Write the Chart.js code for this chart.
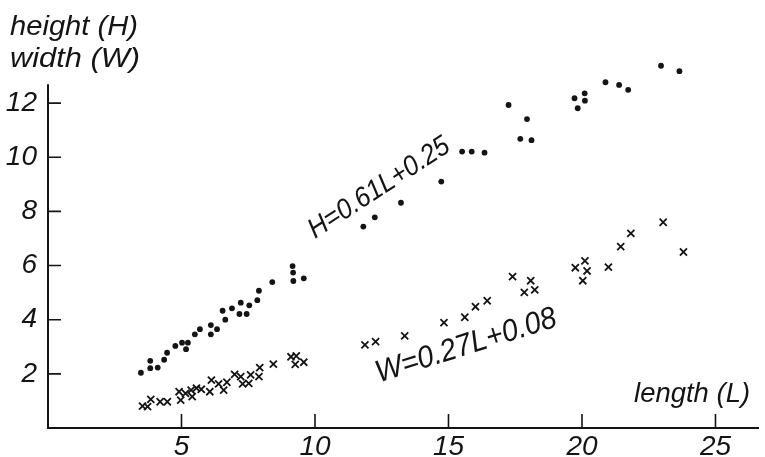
<!DOCTYPE html>
<html lang="en">
<head>
  <meta charset="UTF-8">
  <title>Height and width against length</title>
  <style>
    body {
      margin: 0;
      background: #fff;
    }
    #wrap {
      width: 765px;
      height: 457px;
    }
  </style>
</head>
<body>

  <div id="wrap">
    <canvas id="chartCanvas" width="765" height="457"></canvas>
  </div>

  <script src="https://cdn.jsdelivr.net/npm/chart.js"></script>
  <script>
    // Height (dots): length L and height H
    const heightL = [3.48, 3.83, 3.83, 4.11, 4.35, 4.46, 4.77, 5.02, 5.24, 5.17,
      5.50, 5.69, 6.10, 6.10, 6.33, 6.54, 6.64, 6.89, 7.22, 7.17,
      7.44, 7.54, 7.84, 7.90, 8.40, 9.16, 9.18, 9.19, 9.58, 11.81,
      12.24, 13.22, 14.73, 15.51, 15.87, 16.35, 17.25, 17.94, 17.69, 18.11,
      19.72, 20.10, 20.11, 19.84, 20.88, 21.39, 21.73, 22.96, 23.65];
    const heightH = [2.04, 2.48, 2.21, 2.23, 2.52, 2.78, 3.03, 3.15, 3.15, 2.91,
      3.46, 3.65, 3.46, 3.80, 3.65, 4.33, 4.00, 4.42, 4.63, 4.21,
      4.21, 4.53, 4.72, 5.07, 5.39, 5.98, 5.74, 5.43, 5.53, 7.44,
      7.78, 8.32, 9.10, 10.21, 10.21, 10.17, 11.93, 11.41, 10.68, 10.63,
      12.18, 12.36, 12.09, 11.81, 12.77, 12.67, 12.49, 13.38, 13.18];

    // Width (crosses): length L and width W
    const widthL = [3.54, 3.73, 3.85, 4.20, 4.47, 4.91, 4.97, 5.15, 5.36, 5.40,
      5.56, 5.74, 6.06, 6.12, 6.39, 6.58, 6.70, 6.99, 7.22, 7.29,
      7.52, 7.59, 7.90, 7.93, 8.44, 9.10, 9.30, 9.26, 9.58, 11.87,
      12.27, 13.36, 14.83, 15.61, 16.01, 16.45, 17.40, 18.08, 17.84, 18.23,
      19.75, 20.11, 20.19, 20.03, 20.99, 21.45, 21.83, 23.04, 23.80];
    const widthW = [0.81, 0.79, 1.06, 0.97, 0.97, 1.34, 1.03, 1.28, 1.40, 1.16,
      1.47, 1.43, 1.34, 1.77, 1.63, 1.40, 1.69, 1.98, 1.90, 1.63,
      1.65, 1.96, 1.90, 2.23, 2.36, 2.63, 2.66, 2.35, 2.43, 3.07,
      3.19, 3.40, 3.89, 4.09, 4.48, 4.70, 5.59, 5.44, 5.01, 5.10,
      5.92, 6.17, 5.80, 5.44, 5.94, 6.70, 7.19, 7.60, 6.50];

    // Tick labels
    const xTicks = [5, 10, 15, 20, 25];
    const yTicks = [2, 4, 6, 8, 10, 12];

    // Texts
    const yTitle = ['height (H)', 'width (W)'];
    const xTitle = 'length (L)';
    const heightFit = 'H=0.61L+0.25';
    const widthFit = 'W=0.27L+0.08';

    const ink = '#141414';
    const fontFamily = "'Liberation Sans', 'DejaVu Sans', sans-serif";
    const yAxisEnd = 12.7;   // the drawn y axis stops here, some dots lie above it

    const toPoints = (xs, ys) => xs.map((x, i) => ({ x: x, y: ys[i] }));

    // draws italic text squeezed to a given width, optionally rotated
    function drawLabel(ctx, text, x, y, size, width, angle) {
      ctx.save();
      ctx.font = 'italic ' + size + 'px ' + fontFamily;
      ctx.fillStyle = ink;
      ctx.textBaseline = 'alphabetic';
      ctx.textAlign = 'left';
      ctx.translate(x, y);
      ctx.rotate((angle || 0) * Math.PI / 180);
      const w = ctx.measureText(text).width;
      ctx.scale(width / w, 1);
      ctx.fillText(text, 0, 0);
      ctx.restore();
    }

    const extras = {
      id: 'extras',
      afterDraw(chart) {
        const ctx = chart.ctx;
        const xs = chart.scales.x;
        const ys = chart.scales.y;
        const area = chart.chartArea;

        // y axis line, shorter than the plot area
        ctx.save();
        ctx.strokeStyle = ink;
        ctx.lineWidth = 2;
        ctx.beginPath();
        ctx.moveTo(area.left, area.bottom);
        ctx.lineTo(area.left, ys.getPixelForValue(yAxisEnd));
        ctx.stroke();

        // tick marks pointing into the plot
        ctx.lineWidth = 1.6;
        ctx.beginPath();
        xTicks.forEach(v => {
          const px = xs.getPixelForValue(v);
          ctx.moveTo(px, area.bottom);
          ctx.lineTo(px, area.bottom - 14);
        });
        yTicks.forEach(v => {
          const py = ys.getPixelForValue(v);
          ctx.moveTo(area.left, py);
          ctx.lineTo(area.left + 13, py);
        });
        ctx.stroke();
        ctx.restore();

        // axis titles
        drawLabel(ctx, yTitle[0], 10, 35, 27, 128);
        drawLabel(ctx, yTitle[1], 10, 67, 27, 130);
        drawLabel(ctx, xTitle, xs.getPixelForValue(21.95), ys.getPixelForValue(0.96), 28, 116);

        // fitted relations
        drawLabel(ctx, heightFit, xs.getPixelForValue(10.0), ys.getPixelForValue(6.98), 28, 163, -33);
        drawLabel(ctx, widthFit, xs.getPixelForValue(12.4), ys.getPixelForValue(1.68), 31, 188, -17.5);
      }
    };

    const ctx = document.getElementById('chartCanvas').getContext('2d');

    new Chart(ctx, {
      type: 'scatter',
      data: {
        datasets: [{
          label: 'height (H)',
          data: toPoints(heightL, heightH),
          pointStyle: 'circle',
          pointRadius: 2.9,
          backgroundColor: ink,
          borderWidth: 0
        }, {
          label: 'width (W)',
          data: toPoints(widthL, widthW),
          pointStyle: 'crossRot',
          pointRadius: 5,
          borderColor: ink,
          borderWidth: 1.8
        }]
      },
      options: {
        responsive: false,
        animation: false,
        layout: {
          padding: { top: 56, right: 0, bottom: 0, left: 0 }
        },
        plugins: {
          legend: { display: false },
          tooltip: { enabled: false }
        },
        scales: {
          x: {
            type: 'linear',
            min: 0,
            max: 26.6,
            afterFit: s => { s.height = 29; },
            afterBuildTicks: s => { s.ticks = xTicks.map(v => ({ value: v })); },
            grid: { drawOnChartArea: false, drawTicks: false },
            border: { color: ink, width: 2 },
            ticks: {
              color: ink,
              padding: 2,
              maxRotation: 0,
              autoSkip: false,
              font: { family: fontFamily, size: 28, style: 'italic' }
            }
          },
          y: {
            type: 'linear',
            min: 0,
            max: 13.74,
            afterFit: s => { s.width = 48; },
            afterBuildTicks: s => { s.ticks = yTicks.map(v => ({ value: v })); },
            grid: { drawOnChartArea: false, drawTicks: false },
            border: { display: false },
            ticks: {
              color: ink,
              padding: 11,
              font: { family: fontFamily, size: 28, style: 'italic' }
            }
          }
        }
      },
      plugins: [extras]
    });
  </script>

</body>
</html>
